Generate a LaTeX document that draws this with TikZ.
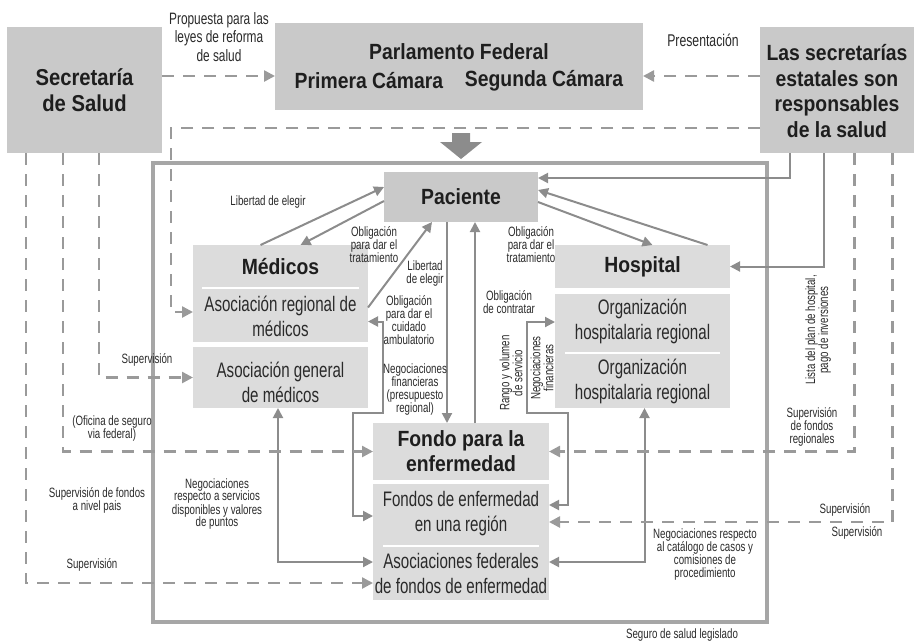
\documentclass[tikz,border=0pt]{standalone}
\usepackage{fontspec}
\setmainfont{Liberation Sans}[FakeStretch=0.72]
\newfontfamily\titlefont{Liberation Sans}[FakeStretch=0.88]
\usetikzlibrary{arrows.meta}

\definecolor{boxdark}{HTML}{C9C9C9}
\definecolor{boxlight}{HTML}{DCDCDC}
\definecolor{framegray}{HTML}{A6A6A6}
\definecolor{linegray}{HTML}{8C8C8C}
\definecolor{dashgray}{HTML}{9A9A9A}
\definecolor{inkdark}{HTML}{1E1E1E}
\definecolor{inkmid}{HTML}{2A2A2A}

\tikzset{
  darkbox/.style={fill=boxdark, draw=none, inner sep=0pt, outer sep=0pt},
  lightbox/.style={fill=boxlight, draw=none, inner sep=0pt, outer sep=0pt},
  title/.style={font=\titlefont\bfseries\fontsize{22}{25.5}\selectfont, text=inkdark, align=center, inner sep=0pt},
  midtext/.style={font=\fontsize{21}{25}\selectfont, text=inkmid, align=center, inner sep=0pt},
  toplabel/.style={font=\fontsize{16.5}{18.5}\selectfont, text=inkmid, align=center, inner sep=0pt},
  small/.style={font=\fontsize{13.5}{13}\selectfont, text=inkmid, align=center, inner sep=0pt},
  tipshape/.tip={Triangle[length=10pt,width=10pt]},
  conn/.style={draw=linegray, line width=2pt, -tipshape},
  biconn/.style={draw=linegray, line width=2pt, tipshape-tipshape},
  dconn/.style={draw=dashgray, line width=2.5pt, dash pattern=on 12pt off 9pt, -{Triangle[length=11pt,width=11pt]}},
  sepline/.style={draw=white, line width=1.5pt},
}

\begin{document}
\begin{tikzpicture}[x=1pt, y=-1pt]
\useasboundingbox (0,0) rectangle (915,643);

% outer frame of the legislated health insurance
\draw[framegray, line width=4pt] (153,163) rectangle (767,622);

% top row boxes
\node[darkbox, minimum width=155pt, minimum height=126pt] (sec) at (84.5,90) {};
\node[title, font=\titlefont\bfseries\fontsize{23}{26}\selectfont] (sectxt) at (84.5,90) {Secretaría\\de Salud};

\node[darkbox, minimum width=368pt, minimum height=87pt] (parl) at (459,66.5) {};
\node[title] (parltxt) at (459,52) {Parlamento Federal};
\node[title] (cam1) at (369,81) {Primera Cámara};
\node[title] (cam2) at (544,81) {Segunda Cámara};

\node[darkbox, minimum width=154pt, minimum height=126pt] (est) at (837,90) {};
\node[title] (esttxt) at (837,91) {Las secretarías\\estatales son\\responsables\\de la salud};

% block arrow into the frame
\fill[linegray] (452,133) -- (470,133) -- (470,142) -- (482,142) -- (461,159) -- (440,142) -- (452,142) -- cycle;

% inner boxes
\node[darkbox, minimum width=154pt, minimum height=50pt] (pac) at (461,197) {};
\node[title] (pactxt) at (461,197) {Paciente};

\node[lightbox, minimum width=175pt, minimum height=97pt] (med) at (280.5,293.5) {};
\node[title] (medtxt) at (280.5,267) {Médicos};
\draw[sepline] (202,288) -- (359,288);
\node[midtext] (medreg) at (280.5,316) {Asociación regional de\\médicos};

\node[lightbox, minimum width=175pt, minimum height=61pt] (medgen) at (280.5,377.5) {};
\node[midtext] (medgentxt) at (280.5,382) {Asociación general\\de médicos};

\node[lightbox, minimum width=175pt, minimum height=43pt] (hosp) at (642.5,266.5) {};
\node[title] (hosptxt) at (642.5,266.5) {Hospital};

\node[lightbox, minimum width=175pt, minimum height=114pt] (org) at (642.5,351) {};
\node[midtext] (org1) at (642.5,321) {Organización\\hospitalaria regional};
\draw[sepline] (565,353) -- (720,353);
\node[midtext] (org2) at (642.5,381) {Organización\\hospitalaria regional};

\node[lightbox, minimum width=176pt, minimum height=57pt] (fondo) at (461,451.5) {};
\node[title] (fondotxt) at (461,451) {Fondo para la\\enfermedad};

\node[lightbox, minimum width=176pt, minimum height=116pt] (fondos) at (461,542) {};
\node[midtext] (fondos1) at (461,514) {Fondos de enfermedad\\en una región};
\draw[sepline] (383,546) -- (539,546);
\node[midtext] (fondos2) at (461,573) {Asociaciones federales\\de fondos de enfermedad};

% bend points
\coordinate (medbendA) at (383,413);
\coordinate (medbendB) at (353,413);
\coordinate (hospbendA) at (527,413);
\coordinate (hospbendB) at (568,413);
\coordinate (estbend) at (171,312);

% solid connectors
\draw[conn] ([xshift=-20pt]med.north) -- ([yshift=10pt]pac.west);
\draw[conn] ([yshift=-4pt]pac.west) -- ([xshift=20pt]med.north);
\draw[conn] ([yshift=-14pt]med.east) -- ([xshift=-29pt]pac.south);
\draw[biconn] ([yshift=-28pt]med.east) -| (medbendA) -- (medbendB) |- ([yshift=26pt]fondos.west);
\draw[conn] ([xshift=-14pt]pac.south) -- ([xshift=-14pt]fondo.north);
\draw[conn] ([xshift=14pt]fondo.north) -- ([xshift=14pt]pac.south);
\draw[biconn] ([yshift=29pt]org.west) -| (hospbendA) -- (hospbendB) |- ([yshift=37pt]fondos.east);
\draw[conn] ([yshift=-5pt]pac.east) -- ([xshift=10pt]hosp.north);
\draw[conn] ([xshift=65pt]hosp.north) -- ([yshift=7pt]pac.east);
\draw[conn] ([xshift=-47.5pt]est.south) |- ([yshift=19pt]pac.east);
\draw[conn] ([xshift=-13.5pt]est.south) |- (hosp.east);
\draw[biconn] ([xshift=2pt]org.south) |- ([yshift=-20pt]fondos.east);
\draw[biconn] ([xshift=-2.5pt]medgen.south) |- ([yshift=-20pt]fondos.west);

% dashed connectors
\draw[dconn] ([yshift=14pt]sec.east) -- ([yshift=-9.5pt]parl.west);
\draw[dconn] ([yshift=14pt]est.west) -- ([yshift=-9.5pt]parl.east);
\draw[dconn] ([yshift=-38pt]est.west) -| (estbend) -- ([yshift=-18.5pt]med.west);
\draw[dconn] ([xshift=17.5pt]est.south) |- (fondo.east);
\draw[dconn] ([xshift=55.5pt]est.south) |- ([yshift=20pt]fondos.east);
\draw[dconn] ([xshift=14.5pt]sec.south) |- (medgen.west);
\draw[dconn] ([xshift=-21.5pt]sec.south) |- (fondo.west);
\draw[dconn] ([xshift=-58.5pt]sec.south) |- ([yshift=-41pt]fondos.west);

% labels
\node[toplabel] (lprop) at (219,37) {Propuesta para las\\leyes de reforma\\de salud};
\node[toplabel, font=\fontsize{17}{18.5}\selectfont] (lpres) at (703,40) {Presentación};

\node[small] (l1) at (268,202) {Libertad de elegir};
\node[small] (l2) at (374,245) {Obligación\\para dar el\\tratamiento};
\node[small] (l3) at (425,273.5) {Libertad\\de elegir};
\node[small] (l4) at (409,320) {Obligación\\para dar el\\cuidado\\ambulatorio};
\node[small] (l5) at (415,390) {Negociaciones\\financieras\\(presupuesto\\regional)};
\node[small] (l6) at (509,302.5) {Obligación\\de contratar};
\node[small] (l7) at (531,245) {Obligación\\para dar el\\tratamiento};
\node[small, rotate=90] (l8) at (511,373) {Rango y volumen\\de servicio};
\node[small, rotate=90] (l9) at (542,368) {Negociaciones\\financieras};
\node[small, rotate=90] (l10) at (818,330) {Lista del plan de hospital,\\pago de inversiones};
\node[small] (l11) at (812,427) {Supervisión\\de fondos\\regionales};
\node[small] (l12) at (845,510) {Supervisión};
\node[small] (l13) at (857,533) {Supervisión};
\node[small] (l14) at (705,554) {Negociaciones respecto\\al catálogo de casos y\\comisiones de\\procedimiento};
\node[small] (l15) at (682,635) {Seguro de salud legislado};
\node[small] (l16) at (217,504) {Negociaciones\\respecto a servicios\\disponibles y valores\\de puntos};
\node[small] (l17) at (147,360) {Supervisión};
\node[small] (l18) at (112,428) {(Oficina de seguro\\via federal)};
\node[small] (l19) at (97,500) {Supervisión de fondos\\a nivel pais};
\node[small] (l20) at (92,565) {Supervisión};
\end{tikzpicture}
\end{document}
